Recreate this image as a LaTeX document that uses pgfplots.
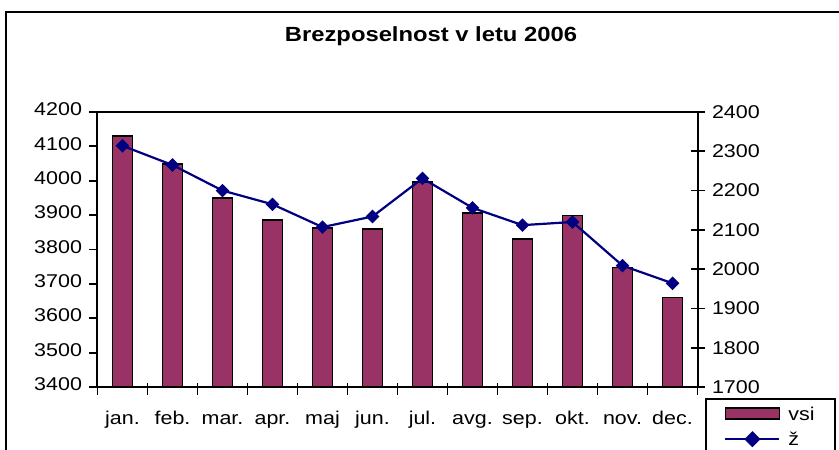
\documentclass[border=0pt]{standalone}
\usepackage{fontspec}
\setmainfont[FakeStretch=1.16]{Liberation Sans}
\usepackage{pgfplots}
\pgfplotsset{compat=1.18}
\definecolor{barcol}{HTML}{993366}
\definecolor{linecol}{HTML}{000080}

\begin{document}
\begin{tikzpicture}
\clip (0,0) rectangle (839pt,450pt);
\draw[line width=1.8pt] (6pt,-20pt) rectangle (870pt,438pt);
\node[font=\fontsize{20.5}{20.5}\selectfont\bfseries] at (431pt,414pt) {Brezposelnost v letu 2006};

\begin{axis}[
    at={(97.5pt,63pt)}, anchor=south west,
    scale only axis, width=600pt, height=275pt,
    xmin=-0.5, xmax=11.5,
    ymin=3400, ymax=4200,
    ytick={3400,3500,...,4200},
    xtick={0,...,11},
    xticklabels={jan.,feb.,mar.,apr.,maj,jun.,jul.,avg.,sep.,okt.,nov.,dec.},
    minor xtick={-0.5,0.5,...,11.5},
    major x tick style={draw=none},
    minor x tick style={yshift=4pt},
    xtick pos=left, ytick pos=left,
    tick align=outside,
    major tick length=8pt, minor tick length=12pt,
    tick style={line width=1.8pt, black},
    axis line style={line width=2pt},
    ticklabel style={font=\fontsize{18.5}{18.5}\selectfont},
    typeset ticklabels with strut,
    /pgf/number format/assume math mode=true,
    /pgf/number format/1000 sep={},
    xticklabel style={yshift=-13pt},
    yticklabel style={xshift=-4pt},
]
\addplot[ybar, bar width=20pt, fill=barcol, draw=black, line width=1.6pt] coordinates {
    (0,4130) (1,4048) (2,3949) (3,3886) (4,3862) (5,3859)
    (6,3997) (7,3907) (8,3830) (9,3899) (10,3748) (11,3660)
};
\end{axis}

\begin{axis}[
    at={(97.5pt,63pt)}, anchor=south west,
    scale only axis, width=600pt, height=275pt,
    xmin=-0.5, xmax=11.5,
    ymin=1700, ymax=2400,
    ytick={1700,1800,...,2400},
    axis x line=none, axis y line*=right,
    tick align=center, major tick length=14pt,
    tick style={line width=1.8pt, black},
    axis line style={line width=2pt},
    ticklabel style={font=\fontsize{18.5}{18.5}\selectfont},
    yticklabel style={xshift=4pt},
    /pgf/number format/assume math mode=true,
    /pgf/number format/1000 sep={},
    legend cell align=left,
    legend style={at={(rel axis cs:1.0133,-0.04)}, anchor=north west,
        draw=black, line width=1.6pt, font=\fontsize{18.5}{18.5}\selectfont,
        inner xsep=18pt, inner ysep=6pt, row sep=6pt, column sep=6pt},
]
\addlegendimage{legend image code/.code={\draw[fill=barcol, draw=black, line width=1.6pt] (0pt,-5pt) rectangle (54pt,6pt);}}
\addlegendentry{vsi}
\addplot[linecol, line width=2.2pt, mark=square*, mark size=4.3pt,
    mark options={rotate=45, fill=linecol, draw=linecol, line width=1pt},
    legend image code/.code={
        \draw[linecol, line width=2.2pt] (0pt,0pt) -- (54pt,0pt);
        \fill[linecol] (27pt,6.5pt) -- (33.5pt,0pt) -- (27pt,-6.5pt) -- (20.5pt,0pt) -- cycle;}]
    coordinates {
    (0,2314) (1,2265) (2,2200) (3,2165) (4,2107) (5,2134)
    (6,2231) (7,2156) (8,2112) (9,2120) (10,2009) (11,1964)
};
\addlegendentry{ž}
\end{axis}
\end{tikzpicture}
\end{document}
